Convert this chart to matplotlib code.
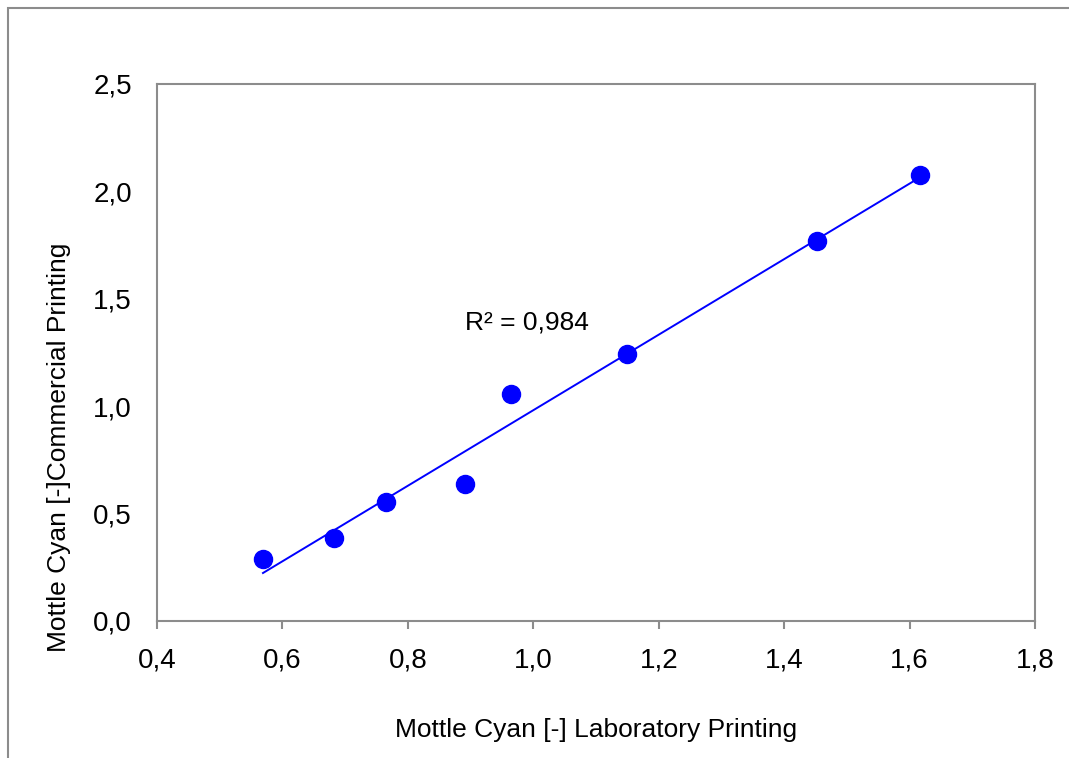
import matplotlib.pyplot as plt
import numpy as np
from matplotlib.patches import Rectangle

# laboratory vs commercial mottle (cyan)
lab = [0.569, 0.682, 0.765, 0.891, 0.965, 1.150, 1.453, 1.617]
commercial = [0.289, 0.386, 0.554, 0.638, 1.057, 1.243, 1.769, 2.076]
r2_label = "R² = 0,984"

plt.rcParams['font.family'] = ['Liberation Sans', 'DejaVu Sans']

fig = plt.figure(figsize=(10.69, 7.58), dpi=100)
ax = fig.add_axes([157 / 1069, 1 - 621 / 758, 878 / 1069, 537 / 758])

# outer chart-area border (left and top visible, rest cut off)
fig.add_artist(Rectangle((8 / 1069, -0.1), 1.2, (758 - 8) / 758 + 0.1,
                         transform=fig.transFigure, fill=False,
                         edgecolor='#8c8c8c', linewidth=1.5))

ax.plot(lab, commercial, 'o', color='#0000ff', markersize=13, zorder=3)

slope, icpt = np.polyfit(lab, commercial, 1)
xs = np.array([min(lab), max(lab)])
ax.plot(xs, slope * xs + icpt, color='#0000ff', linewidth=1.4)

ax.text(0.891, 1.39, r2_label, fontsize=19, va='center', ha='left')

ax.set_xlim(0.4, 1.8)
ax.set_ylim(0, 2.5)
ax.set_xticks(np.arange(0.4, 1.81, 0.2))
ax.set_yticks(np.arange(0, 2.51, 0.5))
fmt = lambda v, d: f"{v:.1f}".replace('.', ',')
ax.xaxis.set_major_formatter(plt.FuncFormatter(fmt))
ax.yaxis.set_major_formatter(plt.FuncFormatter(fmt))
ax.tick_params(axis='x', direction='out', length=6, width=1.5, color='#8c8c8c',
               labelsize=20, pad=13)
ax.tick_params(axis='y', length=0, labelsize=20, pad=18)
for s in ax.spines.values():
    s.set_color('#8c8c8c')
    s.set_linewidth(1.5)

ax.set_xlabel("Mottle Cyan [-] Laboratory Printing", fontsize=19, labelpad=32)
ax.set_ylabel("Mottle Cyan [-]Commercial Printing", fontsize=19, labelpad=16)
ax.yaxis.label.set_y(0.324)

fig.savefig("out.png", dpi=100)
